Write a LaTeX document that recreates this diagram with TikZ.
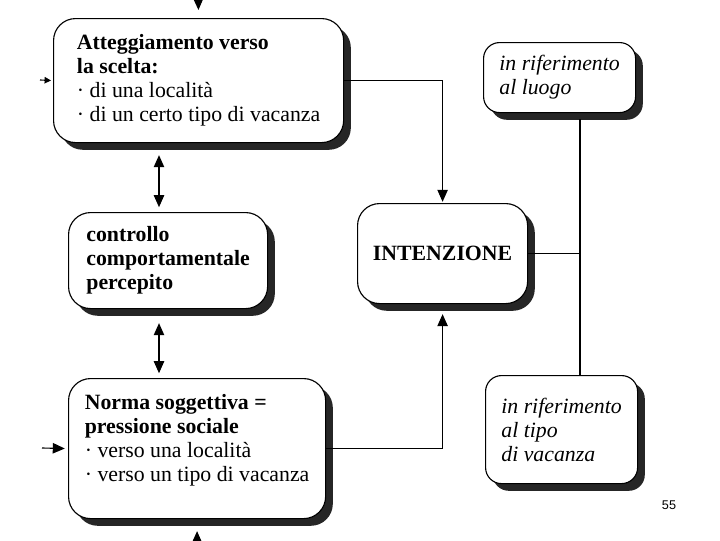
\documentclass[tikz,border=0pt]{standalone}
\usepackage{fontspec}
\setmainfont{Liberation Serif}
\newfontfamily\pagefont{Liberation Sans}
\usetikzlibrary{arrows.meta,shadows}
\tikzset{
  box/.style={draw,line width=0.8pt,rounded corners=5.5mm,fill=white,align=left,inner xsep=0pt,
    drop shadow={shadow xshift=1.8mm,shadow yshift=-1.8mm,opacity=1,fill=black!85},
    font=\fontsize{15.5}{17}\selectfont,anchor=north west},
  sbox/.style={box,rounded corners=4mm,font=\fontsize{15.5}{17}\selectfont\itshape},
  ar/.style={-{Triangle[length=3mm,width=2.6mm]},line width=0.8pt},
  sar/.style={-{Triangle[length=1.6mm,width=1.6mm]},line width=0.8pt},
  dar/.style={{Triangle[length=3mm,width=2.6mm]}-{Triangle[length=3mm,width=2.6mm]},line width=0.8pt},
  ln/.style={line width=0.8pt},
}
\newcommand{\bul}{\textperiodcentered\ }

\begin{document}
\begin{tikzpicture}[x=0.025cm,y=-0.025cm]
  \useasboundingbox (0,0) rectangle (720,540);
  % boxes
  \node[box,minimum width=7.25cm,minimum height=3.1cm] (att) at (53,18)
    {\textbf{Atteggiamento verso}\\ \textbf{la scelta:}\\ \bul di una località\\ \bul di un certo tipo di vacanza};
  \node[box,minimum width=4.975cm,minimum height=2.4cm] (ctl) at (68,212)
    {\textbf{controllo}\\ \textbf{comportamentale}\\ \textbf{percepito}};
  \node[box,align=center,minimum width=4.25cm,minimum height=2.5cm] (int) at (357,203) {\textbf{INTENZIONE}};
  \node[box,minimum width=6.425cm,minimum height=3.5cm,text depth=15pt] (nor) at (68,378)
    {\textbf{Norma soggettiva =}\\ \textbf{pressione sociale}\\ \bul verso una località\\ \bul verso un tipo di vacanza};
  \node[sbox,minimum width=3.8cm,minimum height=1.75cm] (luogo) at (483,42) {in riferimento\\ al luogo};
  \node[sbox,minimum width=3.8cm,minimum height=2.7cm] (tipo) at (485,375) {in riferimento\\ al tipo\\ di vacanza};
  % free ends
  \coordinate (top) at (198,-20);
  \coordinate (bot) at (197,570);
  \coordinate (lin) at (40,80);
  \coordinate (nin) at (42,448);
  \coordinate (dx) at (159,0);
  \coordinate (vx) at (580,0);
  % connectors
  \draw[ar,shorten >=2mm] (top) -- (att.north);
  \draw[sar,shorten >=0.5mm] (lin) -- (att.west);
  \draw[ar,shorten >=0.8mm] (nin) -- (nor.west);
  \draw[ar,shorten >=3mm] (bot) -- (nor.south);
  \draw[dar,shorten <=3mm,shorten >=1.2mm] (att.south -| dx) -- (ctl.north -| dx);
  \draw[dar,shorten <=3.5mm,shorten >=1.2mm] (ctl.south -| dx) -- (nor.north -| dx);
  \draw[ar,shorten >=0.3mm] (att.east) -| (int.north);
  \draw[ar,shorten >=2.5mm] (nor.east) -| (int.south);
  \draw[ln,shorten <=1.5mm] (luogo.south -| vx) -- (tipo.north -| vx);
  \draw[ln] (int.east) -- (int.east -| vx);
  \node[font=\pagefont\fontsize{9}{10}\selectfont] (pg) at (669,505) {55};
\end{tikzpicture}
\end{document}
